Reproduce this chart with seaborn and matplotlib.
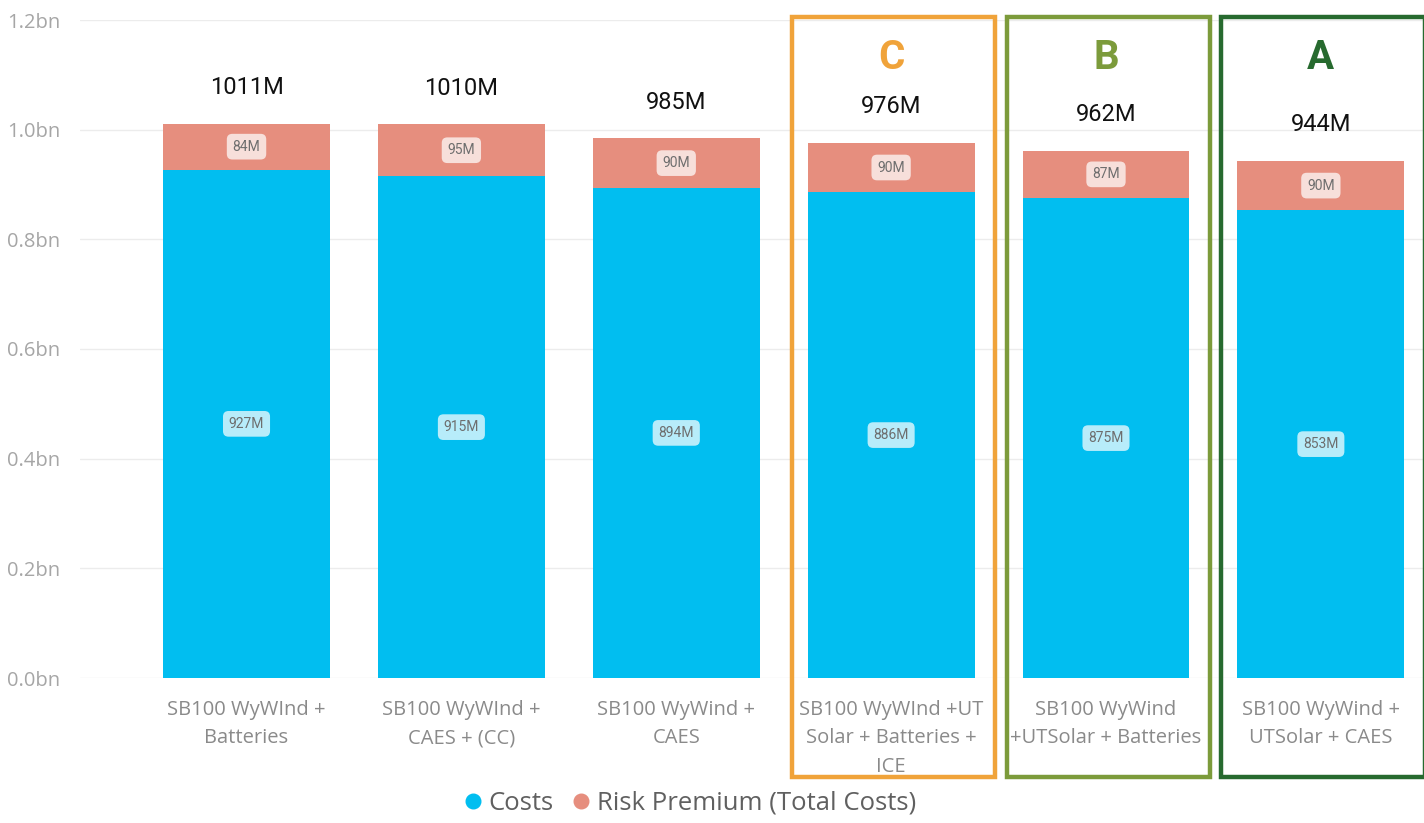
import pandas as pd
import seaborn as sns
import matplotlib.pyplot as plt
import matplotlib.transforms as mtransforms
from matplotlib.patches import Rectangle
from matplotlib.lines import Line2D

# Scenario data (values in millions)
scenarios = [
    "SB100 WyWInd +\nBatteries",
    "SB100 WyWInd +\nCAES + (CC)",
    "SB100 WyWind +\nCAES",
    "SB100 WyWInd +UT\nSolar + Batteries +\nICE",
    "SB100 WyWind\n+UTSolar + Batteries",
    "SB100 WyWind +\nUTSolar + CAES",
]
costs_m = [927, 915, 894, 886, 875, 853]
risk_premium_m = [84, 95, 90, 90, 87, 90]
total_labels_m = [1011, 1010, 985, 976, 962, 944]
ytick_values_bn = [0.0, 0.2, 0.4, 0.6, 0.8, 1.0, 1.2]
ytick_labels = ["0.0bn", "0.2bn", "0.4bn", "0.6bn", "0.8bn", "1.0bn", "1.2bn"]
ranked = [(3, "C", "#F0A33A"), (4, "B", "#7C9B3B"), (5, "A", "#276A2F")]
legend_labels = ["Costs", "Risk Premium (Total Costs)"]

COST_COLOR = "#01BEF0"
RISK_COLOR = "#E68E7E"

df = pd.DataFrame({
    "scenario": scenarios,
    "costs": [c / 1000 for c in costs_m],
    "stack_top": [(c + r) / 1000 for c, r in zip(costs_m, risk_premium_m)],
})

sns.set_theme(style="white")
plt.rcParams["font.family"] = ["Open Sans", "DejaVu Sans"]
num_font = ["Roboto", "DejaVu Sans"]

fig = plt.figure(figsize=(14.24, 8.23), dpi=100)
ax = fig.add_axes([80 / 1424, 1 - 678 / 823, 1 - 80 / 1424, (678 - 20) / 823])

bar_w = 0.777
sns.barplot(data=df, x="scenario", y="stack_top", color=RISK_COLOR, saturation=1,
            width=bar_w, ax=ax, zorder=2, linewidth=0, edgecolor="none")
sns.barplot(data=df, x="scenario", y="costs", color=COST_COLOR, saturation=1,
            width=bar_w, ax=ax, zorder=3, linewidth=0, edgecolor="none")

ax.set_ylim(0, 1.2)
ax.set_xlim(-0.775, 5.48)
ax.set_yticks(ytick_values_bn)
ax.set_yticklabels(ytick_labels)
ax.set_xlabel("")
ax.set_ylabel("")
ax.yaxis.grid(True, color="#ECECEC", linewidth=1, zorder=0)
ax.set_axisbelow(True)
for s in ax.spines.values():
    s.set_visible(False)
ax.tick_params(axis="y", length=0, pad=14, labelsize=14.5, labelcolor="#A6A6A6")
ax.tick_params(axis="x", length=0, pad=16, labelsize=14.5, labelcolor="#8A8A8A")
for lbl in ax.get_xticklabels():
    lbl.set_linespacing(1.55)

seg_box = dict(boxstyle="round,pad=0.42,rounding_size=0.4", facecolor="white",
               edgecolor="none", alpha=0.72)
for i, (c, r, t) in enumerate(zip(costs_m, risk_premium_m, total_labels_m)):
    c_bn, r_bn = c / 1000, r / 1000
    ax.text(i, c_bn / 2, f"{c}M", ha="center", va="center", fontsize=10,
            color="#6E6E6E", family=num_font, bbox=seg_box, zorder=5)
    ax.text(i, c_bn + r_bn / 2, f"{r}M", ha="center", va="center", fontsize=10,
            color="#6E6E6E", family=num_font, bbox=seg_box, zorder=5)
    ax.annotate(f"{t}M", xy=(i, c_bn + r_bn), xytext=(0, 26), textcoords="offset points",
                ha="center", va="center", fontsize=17, color="#111111",
                family=num_font, zorder=5)

# Highlight frames around the ranked scenarios
blend = mtransforms.blended_transform_factory(ax.transData, fig.transFigure)
box_w = 0.945
for idx, letter, col in ranked:
    fig.patches.append(Rectangle((idx - box_w / 2 + 0.01, 1 - 777 / 823), box_w,
                                 (777 - 17) / 823, transform=blend, fill=False,
                                 edgecolor=col, linewidth=3.2, zorder=10))
    fig.text(idx, 1 - 58 / 823, letter, transform=blend, ha="center", va="center",
             fontsize=29, fontweight="bold", color=col, family=num_font)

handles = [Line2D([], [], marker="o", linestyle="", markersize=10.5, color=COST_COLOR),
           Line2D([], [], marker="o", linestyle="", markersize=10.5, color=RISK_COLOR)]
leg = fig.legend(handles, legend_labels, loc="center", bbox_to_anchor=(688 / 1424, 1 - 803 / 823),
                 ncol=2, frameon=False, fontsize=18.5, handletextpad=0.1, columnspacing=0.6,
                 handlelength=1.0)
for txt in leg.get_texts():
    txt.set_color("#606060")

fig.savefig("out.png", dpi=100)
